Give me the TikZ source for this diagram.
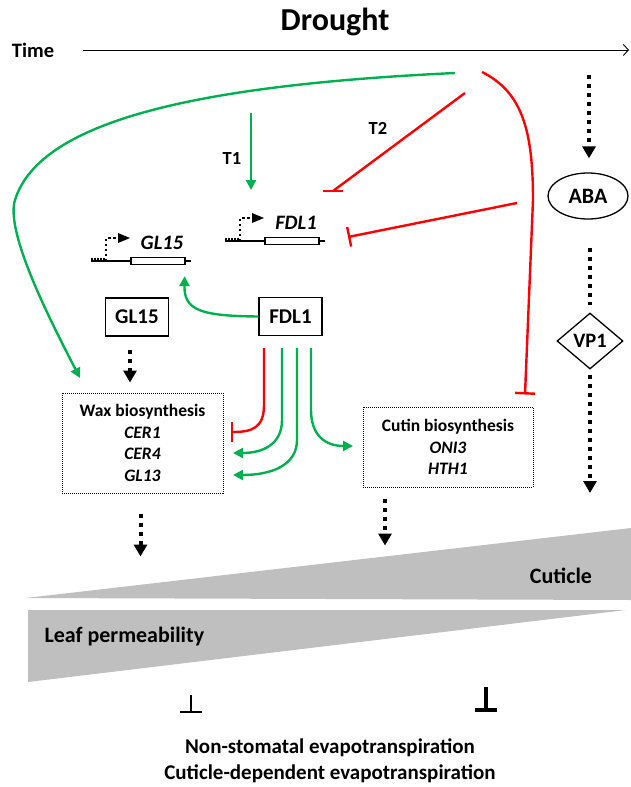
\documentclass[tikz,border=0pt]{standalone}
\usepackage{xcolor}
\usepackage{tikz}
\usepackage{fontspec}
\setmainfont{Carlito}
\usetikzlibrary{shapes.geometric, arrows.meta, positioning, calc}

\definecolor{actgreen}{HTML}{00B050}
\definecolor{inhred}{HTML}{FF0000}
\definecolor{wedgegray}{HTML}{BFBFBF}
\newcommand{\fsz}[1]{\fontsize{#1}{#1}\selectfont}

\begin{document}
\begin{tikzpicture}[x=1pt, y=-1pt,
    title/.style={font=\fsz{32}\bfseries},
    lbl/.style={font=\fsz{20.5}\bfseries},
    tlbl/.style={font=\fsz{18.5}\bfseries},
    genetxt/.style={font=\fsz{20.5}\bfseries\itshape},
    protbox/.style={rectangle, draw, line width=1.4pt, minimum width=63pt, minimum height=38pt, font=\fsz{21}\bfseries},
    pathbox/.style={rectangle, draw, line width=1pt, dash pattern=on 1pt off 1pt, align=center,
        font=\fontsize{17.5}{21.5}\selectfont\bfseries},
    act/.style={-{Triangle[length=10pt, width=10pt]}, line width=2.4pt, actgreen},
    inh/.style={-{Bar[width=20pt]}, line width=2.4pt, inhred},
    sig/.style={-{Triangle[length=12pt, width=13pt]}, line width=4pt, dash pattern=on 4pt off 5pt},
]
\useasboundingbox (0,0) rectangle (631,787);

\node[title] (DRT) at (335,22) {Drought};
\node[lbl] (TIM) at (33,50) {Time};
\coordinate (TA) at (83,50);
\coordinate (TB) at (629,50);
\draw[line width=0.9pt, -{Straight Barb[length=5pt, width=11pt]}] (TA) -- (TB);

\foreach \x/\y/\nm/\txt in {91/261/GLG/GL15, 225/241/FDG/FDL1}{
    \draw[line width=2pt] (\x,\y) -- (\x+100,\y);
    \draw[line width=3pt, dash pattern=on 1.5pt off 1.5pt] (\x,\y-1.5) -- (\x+15,\y-1.5);
    \node[draw, fill=white, line width=1.3pt, minimum width=54pt, minimum height=7pt, inner sep=0pt] (\nm) at (\x+67,\y) {};
    \draw[line width=2pt, dash pattern=on 2.5pt off 2.5pt] (\x+15,\y) -- (\x+15,\y-23) -- (\x+27,\y-23);
    \fill (\x+27,\y-28) -- (\x+39,\y-23) -- (\x+27,\y-18) -- cycle;
    \node[genetxt] (\nm t) at (\x+71,\y-18) {\txt};
}

\node[protbox] (GLB) at (137,317) {GL15};
\node[protbox] (FDB) at (290.5,316.5) {FDL1};
\node[pathbox, minimum width=161pt, minimum height=100pt] (WAX) at (142.5,443)
    {Wax biosynthesis\\ \textit{CER1}\\ \textit{CER4}\\ \textit{GL13}};
\node[pathbox, minimum width=170pt, minimum height=80pt] (CUT) at (448,447)
    {Cutin biosynthesis\\ \textit{ONI3}\\ \textit{HTH1}};
\node[ellipse, draw, line width=1.3pt, minimum width=80pt, minimum height=46pt, inner sep=0pt, lbl, font=\fsz{22}\bfseries] (ABA) at (588,196) {ABA};
\node[diamond, draw, line width=1.3pt, minimum width=66pt, minimum height=56pt, inner sep=0pt, lbl] (VP1) at (590,341) {VP1};

\coordinate (DRa) at (589,75);
\coordinate (VPe) at (590,493);
\draw[sig] (DRa) -- ($(ABA.north)+(1,-14)$);
\draw[sig, -] ($(ABA.south)+(2,28)$) -- ($(VP1.north)+(0,-7)$);
\draw[sig] ($(VP1.south)+(0,5)$) -- (VPe);
\draw[sig] ($(GLB.south)+(-7,13)$) -- ($(WAX.north)+(-12.5,-10)$);
\draw[sig] ($(WAX.south)+(-2,20)$) -- ($(WAX.south)+(-2,63)$);
\draw[sig] ($(CUT.south)+(-63,11)$) -- ($(CUT.south)+(-63,58)$);

\coordinate (DRg) at (455,73);
\coordinate (WXg) at (80,378);
\draw[act] (DRg) .. controls (200,85) and (40,120) .. (15,200) .. controls (5,232) and (50,320) .. (WXg);
\coordinate (DRr) at (482,72);
\draw[inh] (DRr) .. controls (522,92) and (533,130) .. (533,200) -- ($(CUT.north)+(77,-12)$);

\coordinate (T1s) at (251,113);
\coordinate (T1e) at (251,190);
\draw[act] (T1s) -- (T1e);
\node[tlbl] (T1) at (232,158) {T1};
\coordinate (T2s) at (465,93);
\coordinate (T2e) at (333,191);
\draw[inhred, line width=2.4pt] (T2s) -- (T2e);
\draw[inhred, line width=2.4pt] ([xshift=-10pt]T2e) -- ([xshift=10pt]T2e);
\node[tlbl] (T2) at (378,128) {T2};
\coordinate (DRr2) at (517,203);
\coordinate (FDi) at (348,237);
\draw[inh] (DRr2) -- (FDi);

\draw[act] (FDB.west) .. controls (200,316) and (184,310) .. ($(GLG.south east)+(-1,11)$);

\coordinate (WXr) at (231,432);
\coordinate (WXa) at (233,453);
\coordinate (WXb) at (233,475);
\coordinate (CTa) at (353,446);
\draw[inh] ($(FDB.south)+(-26.5,12)$) -- (264,405) .. controls (264,428) and (252,432) .. (WXr);
\draw[act] ($(FDB.south)+(-8.5,12)$) -- (282,420) .. controls (282,445) and (262,453) .. (WXa);
\draw[act] ($(FDB.south)+(6.5,12)$) -- (297,440) .. controls (297,465) and (272,475) .. (WXb);
\draw[act] ($(FDB.south)+(20.5,12)$) -- (311,410) .. controls (311,435) and (325,446) .. (CTa);

\fill[wedgegray] (26,598) -- (631,528) -- (631,600) -- cycle;
\node[lbl, font=\fsz{22}\bfseries] (CUTL) at (561,576) {Cuticle};
\fill[wedgegray] (28,610) -- (626,610) -- (28,682) -- cycle;
\node[lbl, font=\fsz{22}\bfseries, anchor=west] (LPL) at (41,637) {Leaf permeability};

\draw[line width=1.6pt] (191,695) -- (191,712) (180,712) -- (202,712);
\draw[line width=4pt] (486,687) -- (486,712) (475,710) -- (497,710);

\node[lbl, align=center, font=\fontsize{21}{26}\selectfont\bfseries] (EVT) at (330,761)
    {Non-stomatal evapotranspiration\\Cuticle-dependent evapotranspiration};
\end{tikzpicture}
\end{document}
